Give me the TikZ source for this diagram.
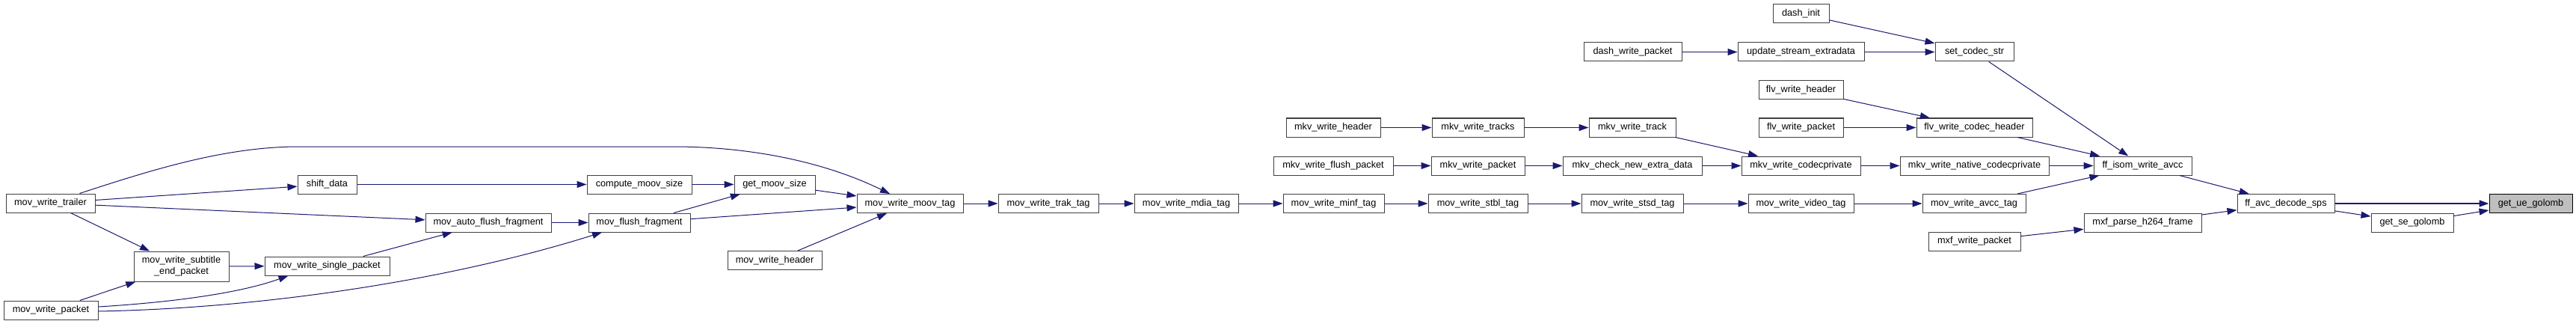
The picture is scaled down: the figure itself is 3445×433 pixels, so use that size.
\documentclass[tikz,border=0pt]{standalone}
\usepackage{fontspec}
\setmainfont{Liberation Sans}
\usetikzlibrary{arrows.meta}
\definecolor{edgec}{HTML}{191970}
\definecolor{boxc}{HTML}{404040}
\definecolor{rootc}{HTML}{BFBFBF}
\begin{document}
\begin{tikzpicture}[x=1pt,y=-1pt,
  fn/.style={draw=boxc, line width=1pt, fill=white, minimum height=25pt, inner sep=0pt,
    font=\fontsize{12.7}{15}\selectfont, text=black, align=center},
  root/.style={fn, draw=black, fill=rootc},
  e/.style={draw=edgec, line width=1pt, -{Triangle[length=13pt,width=9pt]}}]
\fill[white] (0,0) rectangle (3445,433);
\useasboundingbox (0,0) rectangle (3445,433);

% nodes
\node[fn, minimum width=119] (trailer) at (67.5,271.5) {mov\_write\_trailer};
\node[fn, minimum width=79] (shift) at (437.5,246.5) {shift\_data};
\node[fn, minimum width=127, minimum height=40] (subtitle) at (242.5,356) {mov\_write\_subtitle\\\_end\_packet};
\node[fn, minimum width=167] (single) at (437.5,355.5) {mov\_write\_single\_packet};
\node[fn, minimum width=126] (packet) at (68,414.5) {mov\_write\_packet};
\node[fn, minimum width=140] (compute) at (855,246.5) {compute\_moov\_size};
\node[fn, minimum width=108] (getmoov) at (1036,246.5) {get\_moov\_size};
\node[fn, minimum width=168] (autoflush) at (653,297.5) {mov\_auto\_flush\_fragment};
\node[fn, minimum width=136] (flush) at (855,297.5) {mov\_flush\_fragment};
\node[fn, minimum width=126] (movheader) at (1036,348) {mov\_write\_header};
\node[fn, minimum width=142] (moov) at (1217,272) {mov\_write\_moov\_tag};
\node[fn, minimum width=134] (trak) at (1402,272) {mov\_write\_trak\_tag};
\node[fn, minimum width=139] (mdia) at (1586.5,272) {mov\_write\_mdia\_tag};
\node[fn, minimum width=135] (minf) at (1783.5,272) {mov\_write\_minf\_tag};
\node[fn, minimum width=133] (stbl) at (1976.5,272) {mov\_write\_stbl\_tag};
\node[fn, minimum width=136] (stsd) at (2183,272) {mov\_write\_stsd\_tag};
\node[fn, minimum width=141] (video) at (2408.5,272) {mov\_write\_video\_tag};
\node[fn, minimum width=138] (avcctag) at (2640,272) {mov\_write\_avcc\_tag};
\node[fn, minimum width=126] (mkvheader) at (1783,170.5) {mkv\_write\_header};
\node[fn, minimum width=123] (mkvtracks) at (1976.5,170.5) {mkv\_write\_tracks};
\node[fn, minimum width=116] (mkvtrack) at (2183,170.5) {mkv\_write\_track};
\node[fn, minimum width=160] (mkvflush) at (1783,221.5) {mkv\_write\_flush\_packet};
\node[fn, minimum width=125] (mkvpacket) at (1976.5,221.5) {mkv\_write\_packet};
\node[fn, minimum width=186] (mkvcheck) at (2183,221.5) {mkv\_check\_new\_extra\_data};
\node[fn, minimum width=159] (mkvcp) at (2408.5,221.5) {mkv\_write\_codecprivate};
\node[fn, minimum width=199] (mkvncp) at (2640.5,221.5) {mkv\_write\_native\_codecprivate};
\node[fn, minimum width=131] (isom) at (2865.5,221.5) {ff\_isom\_write\_avcc};
\node[fn, minimum width=75] (dashinit) at (2408.5,18.5) {dash\_init};
\node[fn, minimum width=131] (dashpacket) at (2183.5,69.5) {dash\_write\_packet};
\node[fn, minimum width=169] (update) at (2408.5,69.5) {update\_stream\_extradata};
\node[fn, minimum width=105] (setcodec) at (2640.5,69.5) {set\_codec\_str};
\node[fn, minimum width=113] (flvheader) at (2408.5,120) {flv\_write\_header};
\node[fn, minimum width=113] (flvpacket) at (2408.5,170.5) {flv\_write\_packet};
\node[fn, minimum width=155] (flvcodec) at (2640.5,170.5) {flv\_write\_codec\_header};
\node[fn, minimum width=123] (mxfpacket) at (2640.5,322.5) {mxf\_write\_packet};
\node[fn, minimum width=157] (mxfparse) at (2865.5,297.5) {mxf\_parse\_h264\_frame};
\node[fn, minimum width=130] (sps) at (3057,272) {ff\_avc\_decode\_sps};
\node[fn, minimum width=110] (getse) at (3226,297.5) {get\_se\_golomb};
\node[root, minimum width=111] (getue) at (3384.5,272) {get\_ue\_golomb};

% waypoints of the long curve
\coordinate (w1) at (400,196);
\coordinate (w2) at (900,196);

% edges
\draw[e] ([xshift=-21pt]trailer.north east) .. controls (200,228) and (300,196) .. (w1) -- (w2)
  .. controls (1000,196) and (1100,215) .. ([xshift=-27pt]moov.north);
\draw[e] (trailer) -- (shift);
\draw[e] (trailer) -- (autoflush);
\draw[e] (trailer) -- (subtitle);
\draw[e] (packet) -- (subtitle);
\draw[e] ([yshift=4.5pt]packet.east) .. controls (230,404) and (320,392) .. ([xshift=-52pt]single.south);
\draw[e] ([yshift=-1.5pt]packet.east) .. controls (350,412) and (600,375) .. ([xshift=-50pt]flush.south);
\draw[e] (subtitle) -- (single);
\draw[e] (single) -- (autoflush);
\draw[e] (shift) -- (compute);
\draw[e] (compute) -- (getmoov);
\draw[e] (autoflush) -- (flush);
\draw[e] (flush) -- (getmoov);
\draw[e] (flush) -- (moov);
\draw[e] (getmoov) -- (moov);
\draw[e] (movheader) -- (moov);
\draw[e] (moov) -- (trak);
\draw[e] (trak) -- (mdia);
\draw[e] (mdia) -- (minf);
\draw[e] (minf) -- (stbl);
\draw[e] (stbl) -- (stsd);
\draw[e] (stsd) -- (video);
\draw[e] (video) -- (avcctag);
\draw[e] (avcctag) -- (isom);
\draw[e] (mkvheader) -- (mkvtracks);
\draw[e] (mkvtracks) -- (mkvtrack);
\draw[e] (mkvtrack) -- (mkvcp);
\draw[e] (mkvflush) -- (mkvpacket);
\draw[e] (mkvpacket) -- (mkvcheck);
\draw[e] (mkvcheck) -- (mkvcp);
\draw[e] (mkvcp) -- (mkvncp);
\draw[e] (mkvncp) -- (isom);
\draw[e] (dashpacket) -- (update);
\draw[e] (update) -- (setcodec);
\draw[e] (dashinit) -- (setcodec);
\draw[e] (setcodec) -- (isom);
\draw[e] (flvheader) -- (flvcodec);
\draw[e] (flvpacket) -- (flvcodec);
\draw[e] (flvcodec) -- (isom);
\draw[e] (isom) -- (sps);
\draw[e] (mxfpacket) -- (mxfparse);
\draw[e] (mxfparse) -- (sps);
\draw[e, line width=1.6pt] (sps) -- (getue);
\draw[e] (sps) -- (getse);
\draw[e] (getse) -- (getue);
\end{tikzpicture}
\end{document}
